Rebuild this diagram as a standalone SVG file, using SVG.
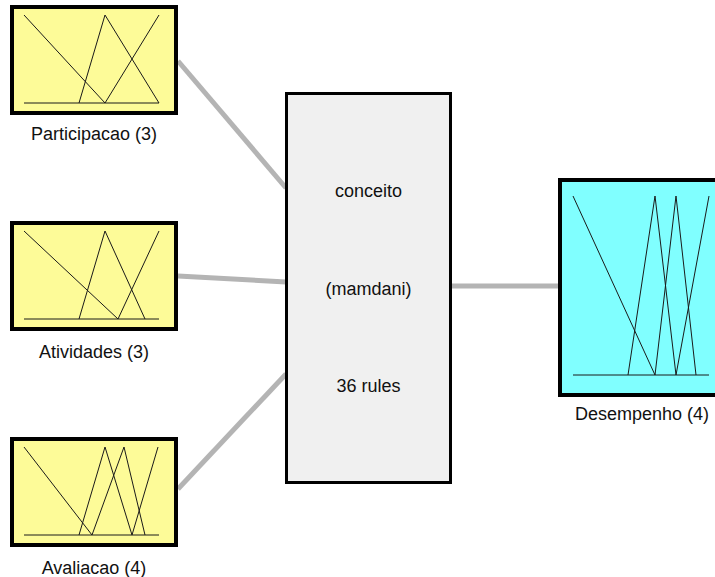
<svg xmlns="http://www.w3.org/2000/svg" width="715" height="577" viewBox="0 0 715 577">
<style>
.in{fill:#fdfb98;stroke:#000;stroke-width:4}
.out{fill:#80ffff;stroke:#000;stroke-width:4}
.sys{fill:#f0f0f0;stroke:#000;stroke-width:3}
.mf{fill:none;stroke:#1a1a1a;stroke-width:1}
.c{stroke:#b4b4b4;stroke-width:5;fill:none}
text{font-family:"Liberation Sans",Arial,sans-serif;font-size:18px;fill:#111;text-anchor:middle}
</style>
<rect width="715" height="577" fill="#fff"/>
<g id="connectors">
<line class="c" x1="178" y1="61" x2="286" y2="188"/>
<line class="c" x1="178" y1="276" x2="286" y2="282"/>
<line class="c" x1="178" y1="489" x2="286" y2="374"/>
<line class="c" x1="451" y1="286" x2="560" y2="286"/>
</g>
<g id="participacao">
<rect class="in" x="12" y="7" width="164" height="106"/>
<polyline class="mf" points="24,103 159,103"/>
<polyline class="mf" points="24,15 105,103"/>
<polyline class="mf" points="79,103 105,15 159,103"/>
<polyline class="mf" points="105,103 159,15"/>
<text x="94" y="140">Participacao (3)</text>
</g>
<g id="atividades">
<rect class="in" x="12" y="223" width="164" height="106"/>
<polyline class="mf" points="24,319 159,319"/>
<polyline class="mf" points="24,231 118,319"/>
<polyline class="mf" points="79,319 105,231 145,319"/>
<polyline class="mf" points="118,319 159,231"/>
<text x="94" y="358">Atividades (3)</text>
</g>
<g id="avaliacao">
<rect class="in" x="12" y="439" width="164" height="106"/>
<polyline class="mf" points="24,535 159,535"/>
<polyline class="mf" points="24,447 92,535"/>
<polyline class="mf" points="79,535 105,447 132,535"/>
<polyline class="mf" points="92,535 124,447 145,535"/>
<polyline class="mf" points="132,535 158,447"/>
<text x="94" y="574">Avaliacao (4)</text>
</g>
<g id="conceito">
<rect class="sys" x="286.5" y="93.5" width="164" height="389"/>
<text x="368.5" y="197">conceito</text>
<text x="368.5" y="295">(mamdani)</text>
<text x="368.5" y="392">36 rules</text>
</g>
<g id="desempenho">
<rect class="out" x="560" y="180" width="170" height="215"/>
<polyline class="mf" points="573,375 709,375"/>
<polyline class="mf" points="573,196 655,375"/>
<polyline class="mf" points="628,375 655,196 676,375"/>
<polyline class="mf" points="655,375 676,196 696,375"/>
<polyline class="mf" points="676,375 709,196"/>
<text x="642" y="420">Desempenho (4)</text>
</g>
</svg>
